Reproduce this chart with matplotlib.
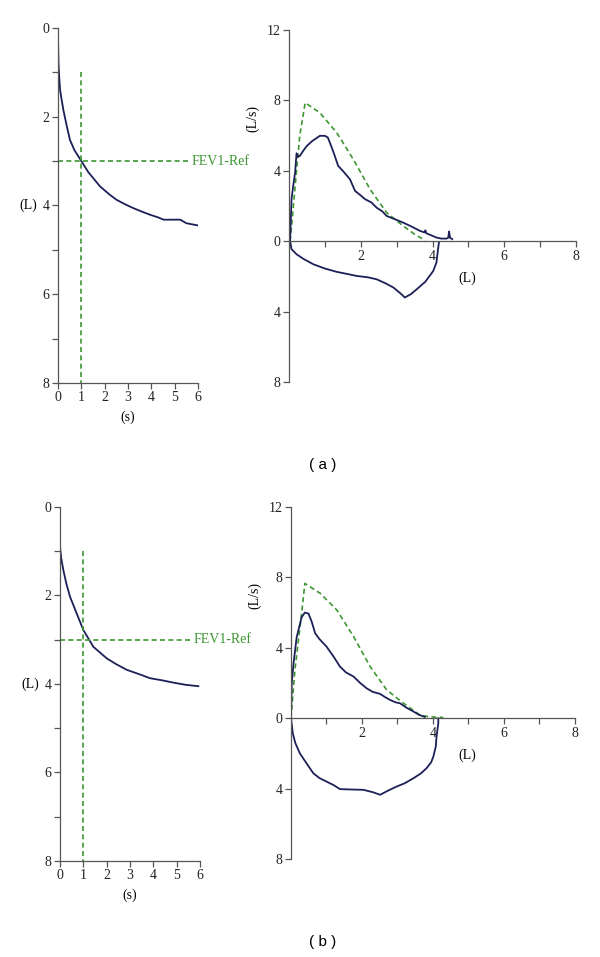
import matplotlib
matplotlib.use("Agg")
import matplotlib.pyplot as plt
from matplotlib.ticker import MultipleLocator, FixedLocator

plt.rcParams["font.family"] = ["Liberation Serif", "DejaVu Serif"]

# volume-time curves (s, L)
time_a = [0, 0.02, 0.05, 0.09, 0.15, 0.23, 0.35, 0.51, 0.7, 1.0, 1.3, 1.8, 2.2, 2.5,
          2.9, 3.23, 3.6, 3.95, 4.3, 4.52, 4.9, 5.24, 5.5, 6.0]
vol_a = [0.27, 0.8, 1.1, 1.4, 1.6, 1.85, 2.15, 2.52, 2.75, 3.0, 3.25, 3.57, 3.75, 3.87,
         3.98, 4.06, 4.14, 4.21, 4.27, 4.32, 4.32, 4.32, 4.4, 4.45]
time_b = [0, 0.0, 0.05, 0.14, 0.28, 0.43, 0.71, 1.0, 1.43, 2.0, 2.4, 2.86, 3.4, 3.86,
          4.4, 4.86, 5.4, 5.93]
vol_b = [0.29, 0.9, 1.15, 1.42, 1.75, 2.03, 2.4, 2.78, 3.16, 3.42, 3.55, 3.68, 3.78, 3.87,
         3.92, 3.97, 4.02, 4.05]
fev1_time = 1.0
fev1_ref = 3.0

# flow-volume loops (L, L/s), inspiration drawn below zero
exp_vol_a = [0.03, 0.05, 0.07, 0.12, 0.17, 0.21, 0.26, 0.31, 0.4, 0.49, 0.65, 0.86, 1.0,
             1.08, 1.14, 1.25, 1.37, 1.5, 1.7, 1.84, 2.0, 2.12, 2.3, 2.44, 2.6, 2.72,
             2.95, 3.18, 3.4, 3.65, 3.78, 3.8, 3.83, 3.95, 4.11, 4.25, 4.39, 4.44, 4.46,
             4.49, 4.55]
exp_flow_a = [0, 1.2, 2.4, 3.2, 3.9, 5.0, 4.8, 4.87, 5.15, 5.4, 5.7, 5.99, 5.99, 5.9, 5.6,
              5.0, 4.28, 4.0, 3.52, 2.86, 2.6, 2.39, 2.2, 1.91, 1.7, 1.44, 1.25, 1.06,
              0.85, 0.59, 0.5, 0.62, 0.45, 0.35, 0.21, 0.15, 0.15, 0.2, 0.55, 0.2, 0.12]
insp_vol_a = [0.03, 0.07, 0.21, 0.4, 0.68, 1.0, 1.33, 1.6, 1.88, 2.2, 2.44, 2.7, 2.91,
              3.1, 3.23, 3.4, 3.56, 3.8, 4.02, 4.11, 4.14, 4.16, 4.18]
insp_flow_a = [0, -0.45, -0.74, -1.0, -1.31, -1.55, -1.74, -1.85, -1.97, -2.05, -2.16,
               -2.4, -2.63, -2.95, -3.2, -3.0, -2.73, -2.3, -1.69, -1.21, -0.7, -0.36, -0.05]
pred_vol_a = [0.03, 0.1, 0.2, 0.3, 0.45, 0.86, 1.33, 1.79, 2.26, 2.72, 3.18, 3.5, 3.74, 3.78]
pred_flow_a = [0, 1.5, 3.8, 6.0, 7.87, 7.3, 6.17, 4.66, 2.95, 1.63, 0.87, 0.4, 0.11, 0]

exp_vol_b = [0, 0.02, 0.07, 0.16, 0.3, 0.39, 0.49, 0.58, 0.68, 0.8, 1.0, 1.2, 1.38, 1.55,
             1.76, 1.95, 2.13, 2.3, 2.51, 2.65, 2.79, 2.95, 3.07, 3.25, 3.45, 3.6, 3.77]
exp_flow_b = [0, 1.96, 3.1, 4.6, 5.74, 6.0, 5.95, 5.5, 4.83, 4.5, 4.07, 3.5, 2.93, 2.6,
              2.37, 2.0, 1.7, 1.5, 1.38, 1.2, 1.04, 0.9, 0.85, 0.6, 0.38, 0.2, 0.07]
insp_vol_b = [0, 0.05, 0.12, 0.25, 0.45, 0.63, 0.8, 1.0, 1.2, 1.38, 1.7, 2.04, 2.3, 2.51,
              2.75, 2.98, 3.2, 3.45, 3.65, 3.82, 3.95, 4.01, 4.08, 4.1, 4.15, 4.15]
insp_flow_b = [0, -0.85, -1.4, -2.0, -2.6, -3.13, -3.4, -3.6, -3.8, -4.03, -4.05, -4.07,
               -4.2, -4.35, -4.1, -3.88, -3.7, -3.41, -3.15, -2.84, -2.5, -2.18, -1.6,
               -1.04, -0.29, 0]
pred_vol_b = [0, 0.11, 0.3, 0.39, 0.82, 1.29, 1.76, 2.23, 2.7, 3.17, 3.63, 3.9, 4.29]
pred_flow_b = [0, 2.74, 5.96, 7.66, 7.1, 6.15, 4.65, 2.93, 1.6, 0.85, 0.18, 0.08, 0.04]

CURVE = "#1c2057"
REF = "#3d9632"
SPINE = "#555555"
DASH = (0, (3, 2))


def style_ticks(ax):
    ax.tick_params(direction="out", length=4, width=0.9, color=SPINE, labelsize=10,
                   labelcolor="#222222", pad=2)
    ax.tick_params(which="minor", direction="out", length=4, width=0.9, color=SPINE)


def volume_time(ax, t, v):
    ax.plot(t, v, color=CURVE, lw=1.3)
    ax.plot([fev1_time, fev1_time], [1, 8], color=REF, lw=1.2, ls=DASH, clip_on=False)
    ax.plot([0, 5.65], [fev1_ref, fev1_ref], color=REF, lw=1.2, ls=DASH, clip_on=False)
    ax.text(5.72, fev1_ref, "FEV1-Ref", color=REF, fontsize=10, va="center", ha="left")
    ax.set_xlim(0, 6)
    ax.set_ylim(8, 0)
    ax.set_xticks(range(0, 7))
    ax.set_yticks([0, 2, 4, 6, 8])
    ax.yaxis.set_minor_locator(MultipleLocator(1))
    for s in ["top", "right"]:
        ax.spines[s].set_visible(False)
    for s in ["left", "bottom"]:
        ax.spines[s].set_color(SPINE)
        ax.spines[s].set_linewidth(0.9)
    style_ticks(ax)
    ax.annotate("(L)", xy=(0, 4), xycoords="data", xytext=(-21.5, 0),
                textcoords="offset points", ha="center", va="center", fontsize=10)
    ax.annotate("(s)", xy=(0.5, 0), xycoords="axes fraction", xytext=(0, -25),
                textcoords="offset points", ha="center", va="center", fontsize=10)


def flow_volume(ax, ev, ef, iv, inf, pv, pf):
    ax.plot(pv, pf, color=REF, lw=1.2, ls=DASH)
    ax.plot(ev, ef, color=CURVE, lw=1.3)
    ax.plot(iv, inf, color=CURVE, lw=1.3)
    ax.set_xlim(0, 8)
    ax.set_ylim(-8, 12)
    ax.spines["bottom"].set_position(("data", 0))
    for s in ["top", "right"]:
        ax.spines[s].set_visible(False)
    for s in ["left", "bottom"]:
        ax.spines[s].set_color(SPINE)
        ax.spines[s].set_linewidth(0.9)
    ax.xaxis.set_major_locator(FixedLocator([2, 4, 6, 8]))
    ax.xaxis.set_minor_locator(FixedLocator([1, 3, 5, 7]))
    yt = [-8, -4, 0, 4, 8, 12]
    ax.set_yticks(yt)
    ax.set_yticklabels([str(abs(y)) for y in yt])
    style_ticks(ax)
    ax.annotate("(L)", xy=(0.62, 0), xycoords=("axes fraction", "data"), xytext=(0, -27),
                textcoords="offset points", ha="center", va="center", fontsize=10)
    ax.annotate("(L/s)", xy=(0, 7.0), xycoords=("axes fraction", "data"), xytext=(-26, 0),
                textcoords="offset points", ha="center", va="center", fontsize=10,
                rotation=90)


fig = plt.figure(figsize=(6, 9.57), dpi=100)

ax1 = fig.add_axes([0.0967, 0.5998, 0.2333, 0.371])
volume_time(ax1, time_a, vol_a)
ax2 = fig.add_axes([0.4817, 0.6008, 0.4783, 0.3678])
flow_volume(ax2, exp_vol_a, exp_flow_a, insp_vol_a, insp_flow_a, pred_vol_a, pred_flow_a)

ax3 = fig.add_axes([0.1, 0.1003, 0.2333, 0.37])
volume_time(ax3, time_b, vol_b)
ax4 = fig.add_axes([0.485, 0.1024, 0.4733, 0.3678])
flow_volume(ax4, exp_vol_b, exp_flow_b, insp_vol_b, insp_flow_b, pred_vol_b, pred_flow_b)

fig.text(323 / 600, 1 - 465 / 957, "( a )", ha="center", va="center", fontsize=11,
         family="Liberation Sans")
fig.text(323 / 600, 1 - 942 / 957, "( b )", ha="center", va="center", fontsize=11,
         family="Liberation Sans")

fig.savefig("out.png", dpi=100)
plt.close(fig)
